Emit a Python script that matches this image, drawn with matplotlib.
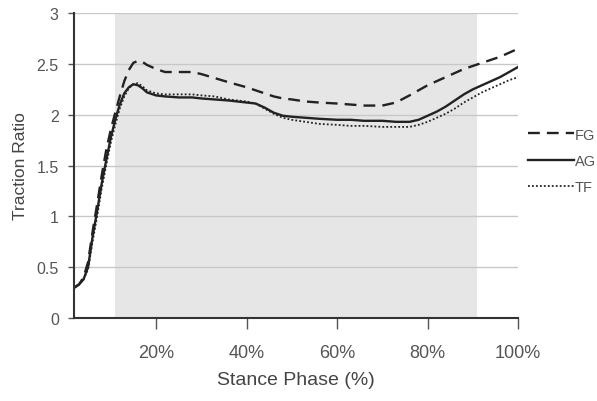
import matplotlib
matplotlib.use("Agg")
import matplotlib.pyplot as plt

plt.rcParams['font.family'] = ['Liberation Sans', 'DejaVu Sans']

# stance phase (%) and traction ratio per shoe condition
phase = [2, 3, 4, 5, 6, 7, 8, 9, 10, 11, 12, 13, 14, 15, 16, 17, 18, 20, 22, 25,
         28, 30, 33, 36, 40, 42, 44, 46, 48, 50, 53, 56, 60, 63, 66, 70, 73, 76, 78, 80,
         82, 84, 86, 88, 90, 92, 94, 96, 98, 100]

fg = [0.30, 0.33, 0.40, 0.55, 0.85, 1.12, 1.40, 1.65, 1.85, 2.02, 2.18, 2.33, 2.44, 2.51, 2.53, 2.52, 2.49, 2.45, 2.42, 2.42,
      2.42, 2.40, 2.36, 2.32, 2.27, 2.24, 2.21, 2.18, 2.16, 2.15, 2.13, 2.12, 2.11, 2.10, 2.09, 2.09, 2.12, 2.19, 2.24, 2.29,
      2.33, 2.37, 2.41, 2.45, 2.48, 2.51, 2.54, 2.57, 2.61, 2.65]

ag = [0.30, 0.33, 0.38, 0.50, 0.80, 1.05, 1.32, 1.55, 1.77, 1.95, 2.10, 2.21, 2.27, 2.30, 2.29, 2.26, 2.22, 2.19, 2.18, 2.17,
      2.17, 2.16, 2.15, 2.14, 2.12, 2.11, 2.07, 2.02, 1.99, 1.98, 1.97, 1.96, 1.95, 1.95, 1.94, 1.94, 1.93, 1.93, 1.95, 1.99,
      2.03, 2.08, 2.14, 2.20, 2.25, 2.29, 2.33, 2.37, 2.42, 2.47]

tf = [0.30, 0.33, 0.38, 0.48, 0.75, 1.00, 1.27, 1.50, 1.72, 1.90, 2.06, 2.18, 2.26, 2.30, 2.31, 2.28, 2.24, 2.21, 2.20, 2.20,
      2.20, 2.19, 2.18, 2.15, 2.13, 2.11, 2.06, 2.01, 1.97, 1.95, 1.93, 1.91, 1.90, 1.89, 1.89, 1.88, 1.88, 1.88, 1.90, 1.93,
      1.97, 2.01, 2.06, 2.12, 2.17, 2.22, 2.26, 2.30, 2.34, 2.37]

shade_range = (11, 91)
xticks = [20, 40, 60, 80, 100]
yticks = [0, 0.5, 1, 1.5, 2, 2.5, 3]

fig = plt.figure(figsize=(5.97, 4.02), dpi=100)
ax = fig.add_axes([0.124, 0.2065, 0.744, 0.7585])

ax.axvspan(shade_range[0], shade_range[1], color='#e6e6e6', zorder=0, lw=0)
ax.set_axisbelow(True)
ax.yaxis.grid(True, color='#c8c8c8', lw=1)

ax.plot(phase, fg, color='#222222', lw=1.7, ls=(0, (5, 3)), label='FG')
ax.plot(phase, ag, color='#222222', lw=1.7, ls='-', label='AG')
ax.plot(phase, tf, color='#222222', lw=1.3, ls=(0, (1, 1.2)), label='TF')

ax.set_xlim(1.9, 100)
ax.set_ylim(0, 3)
ax.set_xticks(xticks)
ax.set_xticklabels([f'{t}%' for t in xticks])
ax.set_yticks(yticks)
ax.set_yticklabels(['0', '0.5', '1', '1.5', '2', '2.5', '3'])

for s in ['top', 'right']:
    ax.spines[s].set_visible(False)
for s in ['left', 'bottom']:
    ax.spines[s].set_color('#333333')
    ax.spines[s].set_linewidth(1.5)

ax.tick_params(axis='x', length=8, width=1, color='#555555', pad=11, labelsize=13, labelcolor='#555555')
ax.tick_params(axis='y', length=4, width=1, color='#555555', pad=7, labelsize=11.5, labelcolor='#555555')

ax.set_xlabel('Stance Phase (%)', fontsize=14, color='#444444', labelpad=7)
ax.set_ylabel('Traction Ratio', fontsize=12.5, color='#444444', labelpad=6)

ax.legend(loc='center left', bbox_to_anchor=(1.0, 0.515), frameon=False, fontsize=10.5,
          handlelength=3.1, handletextpad=0.1, labelspacing=0.85, borderaxespad=0.3,
          labelcolor='#555555')

fig.savefig('out.png', dpi=100)
